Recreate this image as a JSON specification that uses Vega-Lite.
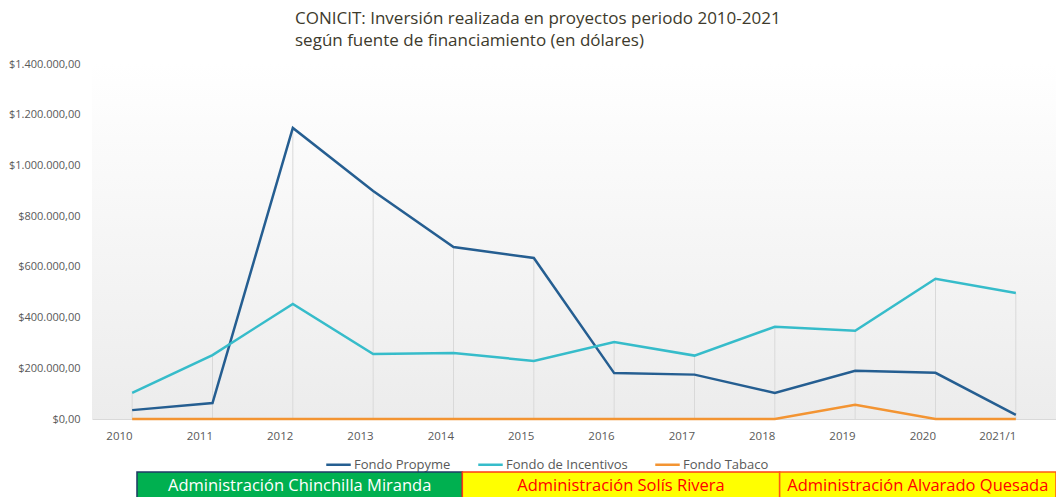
{
  "$schema": "https://vega.github.io/schema/vega-lite/v6.json",
  "padding": {"top": 10, "left": 0, "right": 0, "bottom": 0},
  "spacing": -4,
  "background": "white",
  "config": {
    "font": "Open Sans",
    "locale": {"number": {"decimal": ",", "thousands": ".", "grouping": [3], "currency": ["$", ""]}},
    "axis": {"labelFont": "Open Sans", "labelColor": "#595959", "labelFontSize": 11, "ticks": false, "grid": false, "title": null}
  },
  "datasets": {
    "fondos": [
      {"year": "2010", "serie": "Fondo Propyme", "value": 35000},
      {"year": "2011", "serie": "Fondo Propyme", "value": 63000},
      {"year": "2012", "serie": "Fondo Propyme", "value": 1148000},
      {"year": "2013", "serie": "Fondo Propyme", "value": 899000},
      {"year": "2014", "serie": "Fondo Propyme", "value": 678000},
      {"year": "2015", "serie": "Fondo Propyme", "value": 635000},
      {"year": "2016", "serie": "Fondo Propyme", "value": 181000},
      {"year": "2017", "serie": "Fondo Propyme", "value": 175000},
      {"year": "2018", "serie": "Fondo Propyme", "value": 103000},
      {"year": "2019", "serie": "Fondo Propyme", "value": 190000},
      {"year": "2020", "serie": "Fondo Propyme", "value": 182000},
      {"year": "2021/1", "serie": "Fondo Propyme", "value": 16000},
      {"year": "2010", "serie": "Fondo de Incentivos", "value": 103000},
      {"year": "2011", "serie": "Fondo de Incentivos", "value": 252000},
      {"year": "2012", "serie": "Fondo de Incentivos", "value": 454000},
      {"year": "2013", "serie": "Fondo de Incentivos", "value": 256000},
      {"year": "2014", "serie": "Fondo de Incentivos", "value": 260000},
      {"year": "2015", "serie": "Fondo de Incentivos", "value": 229000},
      {"year": "2016", "serie": "Fondo de Incentivos", "value": 304000},
      {"year": "2017", "serie": "Fondo de Incentivos", "value": 250000},
      {"year": "2018", "serie": "Fondo de Incentivos", "value": 364000},
      {"year": "2019", "serie": "Fondo de Incentivos", "value": 348000},
      {"year": "2020", "serie": "Fondo de Incentivos", "value": 553000},
      {"year": "2021/1", "serie": "Fondo de Incentivos", "value": 497000},
      {"year": "2010", "serie": "Fondo Tabaco", "value": 0},
      {"year": "2011", "serie": "Fondo Tabaco", "value": 0},
      {"year": "2012", "serie": "Fondo Tabaco", "value": 0},
      {"year": "2013", "serie": "Fondo Tabaco", "value": 0},
      {"year": "2014", "serie": "Fondo Tabaco", "value": 0},
      {"year": "2015", "serie": "Fondo Tabaco", "value": 0},
      {"year": "2016", "serie": "Fondo Tabaco", "value": 0},
      {"year": "2017", "serie": "Fondo Tabaco", "value": 0},
      {"year": "2018", "serie": "Fondo Tabaco", "value": 0},
      {"year": "2019", "serie": "Fondo Tabaco", "value": 56000},
      {"year": "2020", "serie": "Fondo Tabaco", "value": 0},
      {"year": "2021/1", "serie": "Fondo Tabaco", "value": 0}
    ],
    "admins": [
      {"admin": "Administración Chinchilla Miranda", "start": 2010.06, "end": 2014.11},
      {"admin": "Administración Solís Rivera", "start": 2014.11, "end": 2018.06},
      {"admin": "Administración Alvarado Quesada", "start": 2018.06, "end": 2021.5}
    ]
  },
  "vconcat": [
    {
      "width": 964,
      "height": 355,
      "title": {
        "text": ["CONICIT: Inversión realizada en proyectos periodo 2010-2021", "según fuente de financiamiento (en dólares)"],
        "anchor": "start",
        "dx": 295,
        "fontSize": 17,
        "lineHeight": 22,
        "font": "Open Sans",
        "fontWeight": "normal",
        "color": "#3d3a2c",
        "offset": 8
      },
      "view": {
        "stroke": null,
        "fill": {
          "gradient": "linear",
          "x1": 0, "y1": 0, "x2": 0, "y2": 1,
          "stops": [{"offset": 0, "color": "#ffffff"}, {"offset": 1, "color": "#ececec"}]
        }
      },
      "data": {"name": "fondos"},
      "layer": [
        {
          "transform": [{"aggregate": [{"op": "max", "field": "value", "as": "maxv"}], "groupby": ["year"]}],
          "mark": {"type": "rule", "color": "#d9d9d9", "strokeWidth": 1},
          "encoding": {
            "x": {"field": "year", "type": "ordinal", "sort": null},
            "y": {"field": "maxv", "type": "quantitative"},
            "y2": {"datum": 0}
          }
        },
        {
          "mark": {"type": "line", "strokeWidth": 2.5},
          "encoding": {
            "x": {
              "field": "year", "type": "ordinal", "sort": null,
              "scale": {"type": "point", "padding": 0.5},
              "axis": {"labelAngle": 0, "domainColor": "#d9d9d9", "labelPadding": 17, "labelFontSize": 11.5}
            },
            "y": {
              "field": "value", "type": "quantitative",
              "scale": {"domain": [0, 1400000]},
              "axis": {"values": [0, 200000, 400000, 600000, 800000, 1000000, 1200000, 1400000], "format": "$,.2f", "domain": false, "labelPadding": 12, "minExtent": 92, "maxExtent": 92}
            },
            "color": {
              "field": "serie", "type": "nominal",
              "scale": {"domain": ["Fondo Propyme", "Fondo de Incentivos", "Fondo Tabaco"], "range": ["#255e91", "#36bcca", "#f39432"]},
              "legend": {
                "title": null, "orient": "none", "legendX": 233, "legendY": 387, "direction": "horizontal",
                "symbolType": "stroke", "symbolSize": 600, "symbolStrokeWidth": 2.5,
                "labelFontSize": 13, "labelColor": "#595959", "labelFont": "Open Sans", "columnPadding": 22, "labelOffset": 2
              }
            }
          }
        }
      ]
    },
    {
      "width": 964,
      "height": 27,
      "view": {"stroke": null},
      "data": {"name": "admins"},
      "transform": [{"calculate": "(datum.start + datum.end) / 2", "as": "mid"}],
      "layer": [
        {
          "mark": {"type": "rect", "strokeWidth": 1.5},
          "encoding": {
            "x": {"field": "start", "type": "quantitative", "scale": {"domain": [2009.5, 2021.5], "nice": false, "zero": false}, "axis": null},
            "x2": {"field": "end"},
            "fill": {"field": "admin", "type": "nominal", "scale": {"domain": ["Administración Chinchilla Miranda", "Administración Solís Rivera", "Administración Alvarado Quesada"], "range": ["#00b050", "#ffff00", "#ffff00"]}, "legend": null},
            "stroke": {"field": "admin", "type": "nominal", "scale": {"domain": ["Administración Chinchilla Miranda", "Administración Solís Rivera", "Administración Alvarado Quesada"], "range": ["#1f3864", "#ff3c14", "#ff5a14"]}, "legend": null}
          }
        },
        {
          "mark": {"type": "text", "fontSize": 16.5, "font": "Open Sans", "baseline": "middle"},
          "encoding": {
            "x": {"field": "mid", "type": "quantitative"},
            "text": {"field": "admin"},
            "color": {"field": "admin", "type": "nominal", "scale": {"domain": ["Administración Chinchilla Miranda", "Administración Solís Rivera", "Administración Alvarado Quesada"], "range": ["#ffffff", "#ff0000", "#ff0000"]}, "legend": null}
          }
        }
      ],
      "resolve": {"scale": {"color": "independent"}}
    }
  ],
  "resolve": {"scale": {"color": "independent", "x": "independent"}}
}
